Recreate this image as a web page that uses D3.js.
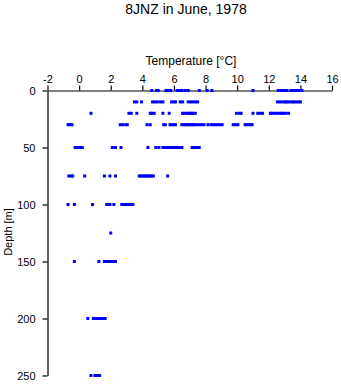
<!DOCTYPE html>
<html><head><meta charset="utf-8">
<script src="https://cdn.jsdelivr.net/npm/d3@7"></script>
<style>
html,body{margin:0;padding:0;background:#fff;}
svg{display:block;font-family:"Liberation Sans",Arial,sans-serif;}
</style></head>
<body>
<script>
const title = "8JNZ in June, 1978";
const xLabel = "Temperature [°C]";
const yLabel = "Depth [m]";
const xTicks = [-2,0,2,4,6,8,10,12,14,16];
const yTicks = [0,50,100,150,200,250];
const depthLevels = [0,10,20,30,50,75,100,125,150,200,250];
const temps0 = [4.6,4.9,5.0,5.5,5.65,5.8,6.2,6.35,6.5,6.7,6.9,7.6,8.1,8.4,11.0,12.6,12.75,12.9,13.05,13.15,13.4,13.5,13.65,13.8,13.95,14.1];
const temps10 = [3.5,3.65,3.95,4.65,4.8,4.95,5.15,5.3,5.85,6.0,6.1,6.4,6.55,6.9,7.05,7.2,7.35,7.5,12.55,12.7,12.85,13.0,13.1,13.2,13.35,13.5,13.6,13.75,13.9,14.0];
const temps20 = [0.75,3.15,3.3,3.65,4.5,4.6,4.75,5.3,5.7,6.55,6.65,6.8,6.9,7.0,7.1,7.2,7.35,9.95,10.15,10.25,11.0,11.3,11.45,11.6,12.1,12.2,12.35,12.5,12.65,12.8,12.9,13.05,13.25];
const temps30 = [-0.7,-0.6,-0.45,2.6,2.75,2.95,3.05,4.3,4.5,5.35,5.45,5.75,5.85,6.0,6.1,6.5,6.6,6.7,6.8,6.9,7.0,7.1,7.2,7.3,7.45,7.6,7.75,7.9,8.15,8.35,8.5,8.6,8.75,8.9,9.05,9.75,9.9,10.05,10.5,10.6,10.75,10.85,10.95];
const temps50 = [-0.25,-0.1,0.05,0.2,2.1,2.3,2.65,4.35,4.85,5.05,5.3,5.4,5.5,5.6,5.7,5.8,5.9,6.0,6.1,6.2,6.35,6.5,7.15,7.25,7.4,7.5,7.6];
const temps75 = [-0.65,-0.5,-0.4,0.35,1.6,1.95,2.3,3.8,3.9,4.0,4.1,4.2,4.3,4.4,4.5,4.6,4.7,5.6];
const temps100 = [-0.7,-0.3,0.85,1.75,1.85,1.95,2.2,2.7,2.85,3.0,3.1,3.2,3.3,3.4];
const temps125 = [2.0];
const temps150 = [-0.3,1.25,1.6,1.75,1.9,2.05,2.2,2.3];
const temps200 = [0.55,0.9,1.0,1.1,1.2,1.3,1.4,1.5,1.65];
const temps250 = [0.75,1.0,1.1,1.2,1.3];
const tempsByDepth = [temps0,temps10,temps20,temps30,temps50,temps75,temps100,temps125,temps150,temps200,temps250];

const points = [];
depthLevels.forEach((d,i)=>tempsByDepth[i].forEach(t=>points.push({t,d})));

const W=341,H=384;
const svg=d3.select("body").append("svg").attr("width",W).attr("height",H);
const x=d3.scaleLinear().domain([-2,16]).range([47.5,332]);
const y=d3.scaleLinear().domain([0,250]).range([90.5,375.5]);

svg.append("text").attr("x",186).attr("y",14).attr("text-anchor","middle")
  .attr("font-size",14).text(title);
svg.append("text").attr("x",191).attr("y",65).attr("text-anchor","middle")
  .attr("font-size",12).text(xLabel);
svg.append("text").attr("transform","translate(12,232) rotate(-90)").attr("text-anchor","middle")
  .attr("font-size",11).text(yLabel);

const xAxis=svg.append("g").attr("transform",`translate(0,${y(0)})`)
  .call(d3.axisTop(x).tickValues(xTicks).tickSize(5).tickPadding(3).tickSizeOuter(0).tickFormat(d3.format("d")));
const yAxis=svg.append("g").attr("transform",`translate(${x(-2)},0)`)
  .call(d3.axisLeft(y).tickValues(yTicks).tickSize(5).tickPadding(7).tickSizeOuter(0));
[xAxis,yAxis].forEach(g=>{
  g.selectAll("text").attr("font-size",11).attr("font-family","Liberation Sans, Arial, sans-serif").attr("fill","#000");
  g.selectAll("line,path").attr("stroke","#000").attr("stroke-width",1.2);
});
xAxis.selectAll("text").text(d=>d<0?"-"+Math.abs(d):d);

svg.append("g").selectAll("rect").data(points).join("rect")
  .attr("x",p=>x(p.t)-1.5).attr("y",p=>y(p.d)-1.5)
  .attr("width",3).attr("height",3).attr("fill","#0000ff");
</script>
</body></html>
